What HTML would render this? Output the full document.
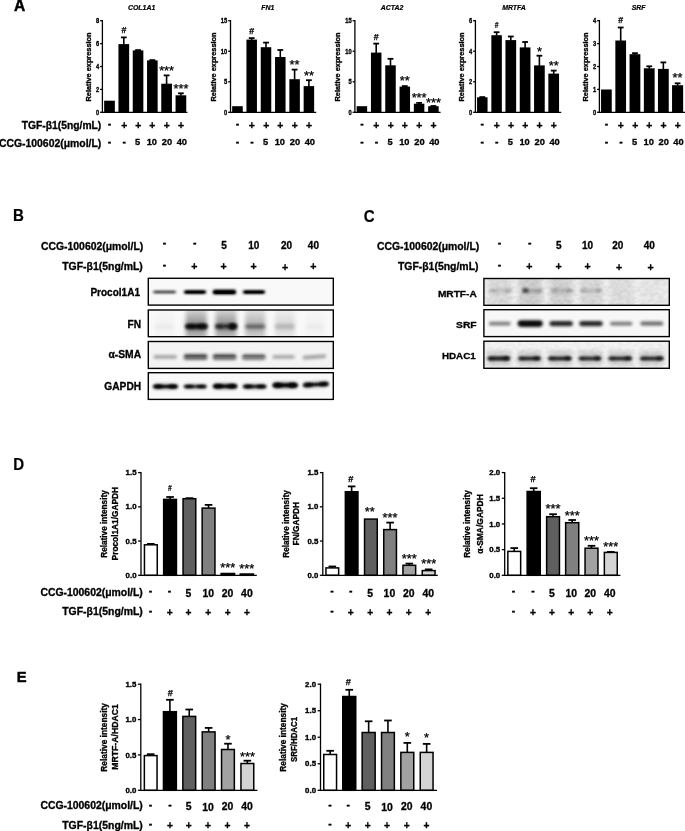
<!DOCTYPE html>
<html lang="en"><head><meta charset="utf-8"><title>Figure</title>
<style>html,body{margin:0;padding:0;background:#fff;}body{width:685px;height:831px;overflow:hidden;}svg{display:block;font-family:'Liberation Sans',Arial,Helvetica,sans-serif;font-weight:bold;}</style>
</head><body>
<svg width="685" height="831" viewBox="0 0 685 831">
<defs>
<filter id="b1" x="-20%" y="-150%" width="140%" height="400%"><feGaussianBlur stdDeviation="1.0 0.75"/></filter>
<filter id="b2" x="-20%" y="-150%" width="140%" height="400%"><feGaussianBlur stdDeviation="1.4 1.1"/></filter>
<filter id="b3" x="-30%" y="-60%" width="160%" height="220%"><feGaussianBlur stdDeviation="2.0 2.2"/></filter>
<filter id="b4" x="-30%" y="-30%" width="160%" height="160%"><feGaussianBlur stdDeviation="2.2 1.2"/></filter>
<filter id="nz" x="0" y="0" width="100%" height="100%"><feTurbulence type="fractalNoise" baseFrequency="0.22 0.3" numOctaves="2" seed="7"/><feColorMatrix type="matrix" values="0 0 0 0 0  0 0 0 0 0  0 0 0 0 0  1.6 0 0 0 -0.55"/><feGaussianBlur stdDeviation="0.6"/></filter>
<filter id="b5" x="-20%" y="-150%" width="140%" height="400%"><feGaussianBlur stdDeviation="1.7 1.5"/></filter>
<linearGradient id="sm" x1="0" y1="0" x2="0" y2="1"><stop offset="0" stop-color="#000" stop-opacity="0.25"/><stop offset="0.45" stop-color="#000" stop-opacity="0.75"/><stop offset="0.62" stop-color="#000" stop-opacity="1"/><stop offset="0.8" stop-color="#000" stop-opacity="0.7"/><stop offset="1" stop-color="#000" stop-opacity="0.45"/></linearGradient>
</defs>
<rect width="685" height="831" fill="#fff"/>
<text transform="translate(14.10 10.90) scale(0.96 1)" font-size="16.2" text-anchor="start" stroke="#000" stroke-width="0.45">A</text>
<text transform="translate(13.10 221.40) scale(0.93 1)" font-size="16.2" text-anchor="start" stroke="#000" stroke-width="0.2">B</text>
<text transform="translate(363.80 221.50) scale(0.93 1)" font-size="16.2" text-anchor="start" stroke="#000" stroke-width="0.2">C</text>
<text transform="translate(13.20 470.20) scale(0.93 1)" font-size="16.2" text-anchor="start" stroke="#000" stroke-width="0.2">D</text>
<text transform="translate(16.70 681.80) scale(0.97 1)" font-size="15.2" text-anchor="start" stroke="#000" stroke-width="0.45">E</text>
<line x1="123.80" y1="37.30" x2="123.80" y2="44.60" stroke="#000" stroke-width="1.6"/>
<line x1="120.90" y1="37.40" x2="126.70" y2="37.40" stroke="#000" stroke-width="1.8"/>
<line x1="138.05" y1="50.00" x2="138.05" y2="50.90" stroke="#000" stroke-width="1.6"/>
<line x1="135.15" y1="50.10" x2="140.95" y2="50.10" stroke="#000" stroke-width="1.8"/>
<line x1="152.35" y1="60.00" x2="152.35" y2="60.90" stroke="#000" stroke-width="1.6"/>
<line x1="149.45" y1="60.10" x2="155.25" y2="60.10" stroke="#000" stroke-width="1.8"/>
<line x1="166.60" y1="75.30" x2="166.60" y2="84.20" stroke="#000" stroke-width="1.6"/>
<line x1="163.70" y1="75.40" x2="169.50" y2="75.40" stroke="#000" stroke-width="1.8"/>
<line x1="180.90" y1="93.20" x2="180.90" y2="95.80" stroke="#000" stroke-width="1.6"/>
<line x1="178.00" y1="93.30" x2="183.80" y2="93.30" stroke="#000" stroke-width="1.8"/>
<rect x="104.15" y="100.70" width="10.70" height="11.60" fill="#000"/>
<rect x="118.45" y="44.10" width="10.70" height="68.20" fill="#000"/>
<rect x="132.75" y="50.40" width="10.60" height="61.90" fill="#000"/>
<rect x="147.05" y="60.40" width="10.60" height="51.90" fill="#000"/>
<rect x="161.25" y="83.70" width="10.70" height="28.60" fill="#000"/>
<rect x="175.55" y="95.30" width="10.70" height="17.00" fill="#000"/>
<line x1="102.40" y1="20.05" x2="102.40" y2="112.95" stroke="#000" stroke-width="1.3"/>
<line x1="101.75" y1="112.30" x2="187.40" y2="112.30" stroke="#000" stroke-width="1.3"/>
<line x1="100.10" y1="112.30" x2="102.40" y2="112.30" stroke="#000" stroke-width="1.3"/>
<text transform="translate(99.10 114.68) scale(0.82 1)" font-size="7.0" text-anchor="end" stroke="#000" stroke-width="0.35">0</text>
<line x1="100.10" y1="89.40" x2="102.40" y2="89.40" stroke="#000" stroke-width="1.3"/>
<text transform="translate(99.10 91.78) scale(0.82 1)" font-size="7.0" text-anchor="end" stroke="#000" stroke-width="0.35">2</text>
<line x1="100.10" y1="66.50" x2="102.40" y2="66.50" stroke="#000" stroke-width="1.3"/>
<text transform="translate(99.10 68.88) scale(0.82 1)" font-size="7.0" text-anchor="end" stroke="#000" stroke-width="0.35">4</text>
<line x1="100.10" y1="43.60" x2="102.40" y2="43.60" stroke="#000" stroke-width="1.3"/>
<text transform="translate(99.10 45.98) scale(0.82 1)" font-size="7.0" text-anchor="end" stroke="#000" stroke-width="0.35">6</text>
<line x1="100.10" y1="20.70" x2="102.40" y2="20.70" stroke="#000" stroke-width="1.3"/>
<text transform="translate(99.10 23.08) scale(0.82 1)" font-size="7.0" text-anchor="end" stroke="#000" stroke-width="0.35">8</text>
<text transform="translate(91.40 67.00) rotate(-90)" font-size="7.5" text-anchor="middle" textLength="69.00" lengthAdjust="spacingAndGlyphs" stroke="#000" stroke-width="0.33">Relative expression</text>
<text transform="translate(141.60 10.10) scale(0.9 1)" font-size="7.7" text-anchor="middle" font-style="italic" stroke="#000" stroke-width="0.22">COL1A1</text>
<text transform="translate(123.90 33.40)" font-size="8.8" text-anchor="middle" stroke="#000" stroke-width="0.25">#</text>
<text transform="translate(166.60 75.32)" font-size="12.8" text-anchor="middle" font-weight="normal" stroke="#000" stroke-width="0.25">***</text>
<text transform="translate(181.00 93.22)" font-size="12.8" text-anchor="middle" font-weight="normal" stroke="#000" stroke-width="0.25">***</text>
<line x1="251.70" y1="38.00" x2="251.70" y2="40.10" stroke="#000" stroke-width="1.6"/>
<line x1="248.80" y1="38.10" x2="254.60" y2="38.10" stroke="#000" stroke-width="1.8"/>
<line x1="266.00" y1="42.50" x2="266.00" y2="47.70" stroke="#000" stroke-width="1.6"/>
<line x1="263.10" y1="42.60" x2="268.90" y2="42.60" stroke="#000" stroke-width="1.8"/>
<line x1="280.30" y1="49.90" x2="280.30" y2="57.50" stroke="#000" stroke-width="1.6"/>
<line x1="277.40" y1="50.00" x2="283.20" y2="50.00" stroke="#000" stroke-width="1.8"/>
<line x1="294.60" y1="69.50" x2="294.60" y2="79.70" stroke="#000" stroke-width="1.6"/>
<line x1="291.70" y1="69.60" x2="297.50" y2="69.60" stroke="#000" stroke-width="1.8"/>
<line x1="308.90" y1="80.10" x2="308.90" y2="86.60" stroke="#000" stroke-width="1.6"/>
<line x1="306.00" y1="80.20" x2="311.80" y2="80.20" stroke="#000" stroke-width="1.8"/>
<rect x="232.15" y="106.20" width="10.60" height="6.10" fill="#000"/>
<rect x="246.45" y="39.60" width="10.50" height="72.70" fill="#000"/>
<rect x="260.75" y="47.20" width="10.50" height="65.10" fill="#000"/>
<rect x="275.05" y="57.00" width="10.50" height="55.30" fill="#000"/>
<rect x="289.35" y="79.20" width="10.50" height="33.10" fill="#000"/>
<rect x="303.65" y="86.10" width="10.50" height="26.20" fill="#000"/>
<line x1="230.50" y1="20.05" x2="230.50" y2="112.95" stroke="#000" stroke-width="1.3"/>
<line x1="229.85" y1="112.30" x2="316.20" y2="112.30" stroke="#000" stroke-width="1.3"/>
<line x1="228.20" y1="112.30" x2="230.50" y2="112.30" stroke="#000" stroke-width="1.3"/>
<text transform="translate(227.20 114.68) scale(0.82 1)" font-size="7.0" text-anchor="end" stroke="#000" stroke-width="0.35">0</text>
<line x1="228.20" y1="81.77" x2="230.50" y2="81.77" stroke="#000" stroke-width="1.3"/>
<text transform="translate(227.20 84.15) scale(0.82 1)" font-size="7.0" text-anchor="end" stroke="#000" stroke-width="0.35">5</text>
<line x1="228.20" y1="51.23" x2="230.50" y2="51.23" stroke="#000" stroke-width="1.3"/>
<text transform="translate(227.20 53.61) scale(0.82 1)" font-size="7.0" text-anchor="end" stroke="#000" stroke-width="0.35">10</text>
<line x1="228.20" y1="20.70" x2="230.50" y2="20.70" stroke="#000" stroke-width="1.3"/>
<text transform="translate(227.20 23.08) scale(0.82 1)" font-size="7.0" text-anchor="end" stroke="#000" stroke-width="0.35">15</text>
<text transform="translate(215.60 67.00) rotate(-90)" font-size="7.5" text-anchor="middle" textLength="69.00" lengthAdjust="spacingAndGlyphs" stroke="#000" stroke-width="0.33">Relative expression</text>
<text transform="translate(267.90 10.10) scale(0.9 1)" font-size="7.7" text-anchor="middle" font-style="italic" stroke="#000" stroke-width="0.22">FN1</text>
<text transform="translate(251.70 33.60)" font-size="8.8" text-anchor="middle" stroke="#000" stroke-width="0.25">#</text>
<text transform="translate(294.60 69.32)" font-size="12.8" text-anchor="middle" font-weight="normal" stroke="#000" stroke-width="0.25">**</text>
<text transform="translate(308.90 79.72)" font-size="12.8" text-anchor="middle" font-weight="normal" stroke="#000" stroke-width="0.25">**</text>
<line x1="376.20" y1="43.50" x2="376.20" y2="53.10" stroke="#000" stroke-width="1.6"/>
<line x1="373.30" y1="43.60" x2="379.10" y2="43.60" stroke="#000" stroke-width="1.8"/>
<line x1="390.50" y1="58.70" x2="390.50" y2="65.80" stroke="#000" stroke-width="1.6"/>
<line x1="387.60" y1="58.80" x2="393.40" y2="58.80" stroke="#000" stroke-width="1.8"/>
<line x1="404.80" y1="86.00" x2="404.80" y2="87.10" stroke="#000" stroke-width="1.6"/>
<line x1="401.90" y1="86.10" x2="407.70" y2="86.10" stroke="#000" stroke-width="1.8"/>
<line x1="419.10" y1="102.80" x2="419.10" y2="104.20" stroke="#000" stroke-width="1.6"/>
<line x1="416.20" y1="102.90" x2="422.00" y2="102.90" stroke="#000" stroke-width="1.8"/>
<line x1="433.40" y1="105.90" x2="433.40" y2="106.70" stroke="#000" stroke-width="1.6"/>
<line x1="430.50" y1="106.00" x2="436.30" y2="106.00" stroke="#000" stroke-width="1.8"/>
<rect x="356.65" y="106.20" width="10.50" height="6.10" fill="#000"/>
<rect x="370.95" y="52.60" width="10.50" height="59.70" fill="#000"/>
<rect x="385.25" y="65.30" width="10.50" height="47.00" fill="#000"/>
<rect x="399.55" y="86.60" width="10.50" height="25.70" fill="#000"/>
<rect x="413.85" y="103.70" width="10.50" height="8.60" fill="#000"/>
<rect x="428.15" y="106.20" width="10.50" height="6.10" fill="#000"/>
<line x1="354.90" y1="20.05" x2="354.90" y2="112.95" stroke="#000" stroke-width="1.3"/>
<line x1="354.25" y1="112.30" x2="440.60" y2="112.30" stroke="#000" stroke-width="1.3"/>
<line x1="352.60" y1="112.30" x2="354.90" y2="112.30" stroke="#000" stroke-width="1.3"/>
<text transform="translate(351.60 114.68) scale(0.82 1)" font-size="7.0" text-anchor="end" stroke="#000" stroke-width="0.35">0</text>
<line x1="352.60" y1="81.77" x2="354.90" y2="81.77" stroke="#000" stroke-width="1.3"/>
<text transform="translate(351.60 84.15) scale(0.82 1)" font-size="7.0" text-anchor="end" stroke="#000" stroke-width="0.35">5</text>
<line x1="352.60" y1="51.23" x2="354.90" y2="51.23" stroke="#000" stroke-width="1.3"/>
<text transform="translate(351.60 53.61) scale(0.82 1)" font-size="7.0" text-anchor="end" stroke="#000" stroke-width="0.35">10</text>
<line x1="352.60" y1="20.70" x2="354.90" y2="20.70" stroke="#000" stroke-width="1.3"/>
<text transform="translate(351.60 23.08) scale(0.82 1)" font-size="7.0" text-anchor="end" stroke="#000" stroke-width="0.35">15</text>
<text transform="translate(340.40 67.00) rotate(-90)" font-size="7.5" text-anchor="middle" textLength="69.00" lengthAdjust="spacingAndGlyphs" stroke="#000" stroke-width="0.33">Relative expression</text>
<text transform="translate(392.00 10.10) scale(0.9 1)" font-size="7.7" text-anchor="middle" font-style="italic" stroke="#000" stroke-width="0.22">ACTA2</text>
<text transform="translate(376.20 39.60)" font-size="8.8" text-anchor="middle" stroke="#000" stroke-width="0.25">#</text>
<text transform="translate(404.80 85.02)" font-size="12.8" text-anchor="middle" font-weight="normal" stroke="#000" stroke-width="0.25">**</text>
<text transform="translate(419.10 102.02)" font-size="12.8" text-anchor="middle" font-weight="normal" stroke="#000" stroke-width="0.25">***</text>
<text transform="translate(433.40 106.52)" font-size="12.8" text-anchor="middle" font-weight="normal" stroke="#000" stroke-width="0.25">***</text>
<line x1="482.30" y1="97.00" x2="482.30" y2="97.80" stroke="#000" stroke-width="1.6"/>
<line x1="479.40" y1="97.10" x2="485.20" y2="97.10" stroke="#000" stroke-width="1.8"/>
<line x1="496.60" y1="32.10" x2="496.60" y2="35.70" stroke="#000" stroke-width="1.6"/>
<line x1="493.70" y1="32.20" x2="499.50" y2="32.20" stroke="#000" stroke-width="1.8"/>
<line x1="510.80" y1="36.40" x2="510.80" y2="40.60" stroke="#000" stroke-width="1.6"/>
<line x1="507.90" y1="36.50" x2="513.70" y2="36.50" stroke="#000" stroke-width="1.8"/>
<line x1="525.10" y1="41.90" x2="525.10" y2="47.90" stroke="#000" stroke-width="1.6"/>
<line x1="522.20" y1="42.00" x2="528.00" y2="42.00" stroke="#000" stroke-width="1.8"/>
<line x1="539.40" y1="55.60" x2="539.40" y2="65.90" stroke="#000" stroke-width="1.6"/>
<line x1="536.50" y1="55.70" x2="542.30" y2="55.70" stroke="#000" stroke-width="1.8"/>
<line x1="553.70" y1="70.50" x2="553.70" y2="74.10" stroke="#000" stroke-width="1.6"/>
<line x1="550.80" y1="70.60" x2="556.60" y2="70.60" stroke="#000" stroke-width="1.8"/>
<rect x="477.05" y="97.30" width="10.50" height="15.00" fill="#000"/>
<rect x="491.35" y="35.20" width="10.50" height="77.10" fill="#000"/>
<rect x="505.45" y="40.10" width="10.70" height="72.20" fill="#000"/>
<rect x="519.75" y="47.40" width="10.70" height="64.90" fill="#000"/>
<rect x="534.05" y="65.40" width="10.70" height="46.90" fill="#000"/>
<rect x="548.35" y="73.60" width="10.70" height="38.70" fill="#000"/>
<line x1="475.40" y1="20.05" x2="475.40" y2="112.95" stroke="#000" stroke-width="1.3"/>
<line x1="474.75" y1="112.30" x2="561.20" y2="112.30" stroke="#000" stroke-width="1.3"/>
<line x1="473.10" y1="112.30" x2="475.40" y2="112.30" stroke="#000" stroke-width="1.3"/>
<text transform="translate(472.10 114.68) scale(0.82 1)" font-size="7.0" text-anchor="end" stroke="#000" stroke-width="0.35">0</text>
<line x1="473.10" y1="81.77" x2="475.40" y2="81.77" stroke="#000" stroke-width="1.3"/>
<text transform="translate(472.10 84.15) scale(0.82 1)" font-size="7.0" text-anchor="end" stroke="#000" stroke-width="0.35">2</text>
<line x1="473.10" y1="51.23" x2="475.40" y2="51.23" stroke="#000" stroke-width="1.3"/>
<text transform="translate(472.10 53.61) scale(0.82 1)" font-size="7.0" text-anchor="end" stroke="#000" stroke-width="0.35">4</text>
<line x1="473.10" y1="20.70" x2="475.40" y2="20.70" stroke="#000" stroke-width="1.3"/>
<text transform="translate(472.10 23.08) scale(0.82 1)" font-size="7.0" text-anchor="end" stroke="#000" stroke-width="0.35">6</text>
<text transform="translate(464.30 67.00) rotate(-90)" font-size="7.5" text-anchor="middle" textLength="69.00" lengthAdjust="spacingAndGlyphs" stroke="#000" stroke-width="0.33">Relative expression</text>
<text transform="translate(514.00 10.10) scale(0.9 1)" font-size="7.7" text-anchor="middle" font-style="italic" stroke="#000" stroke-width="0.22">MRTFA</text>
<text transform="translate(496.60 27.60) scale(0.72 1)" font-size="9.0" text-anchor="middle" font-style="italic" stroke="#000" stroke-width="0.25">#</text>
<text transform="translate(539.40 55.92)" font-size="12.8" text-anchor="middle" font-weight="normal" stroke="#000" stroke-width="0.25">*</text>
<text transform="translate(553.70 69.92)" font-size="12.8" text-anchor="middle" font-weight="normal" stroke="#000" stroke-width="0.25">**</text>
<line x1="620.70" y1="27.40" x2="620.70" y2="41.00" stroke="#000" stroke-width="1.6"/>
<line x1="617.80" y1="27.50" x2="623.60" y2="27.50" stroke="#000" stroke-width="1.8"/>
<line x1="634.95" y1="53.10" x2="634.95" y2="54.70" stroke="#000" stroke-width="1.6"/>
<line x1="632.05" y1="53.20" x2="637.85" y2="53.20" stroke="#000" stroke-width="1.8"/>
<line x1="649.25" y1="66.20" x2="649.25" y2="68.80" stroke="#000" stroke-width="1.6"/>
<line x1="646.35" y1="66.30" x2="652.15" y2="66.30" stroke="#000" stroke-width="1.8"/>
<line x1="663.35" y1="62.30" x2="663.35" y2="69.40" stroke="#000" stroke-width="1.6"/>
<line x1="660.45" y1="62.40" x2="666.25" y2="62.40" stroke="#000" stroke-width="1.8"/>
<line x1="677.60" y1="83.20" x2="677.60" y2="85.70" stroke="#000" stroke-width="1.6"/>
<line x1="674.70" y1="83.30" x2="680.50" y2="83.30" stroke="#000" stroke-width="1.8"/>
<rect x="601.05" y="89.50" width="10.70" height="22.80" fill="#000"/>
<rect x="615.35" y="40.50" width="10.70" height="71.80" fill="#000"/>
<rect x="629.55" y="54.20" width="10.80" height="58.10" fill="#000"/>
<rect x="643.85" y="68.30" width="10.80" height="44.00" fill="#000"/>
<rect x="657.95" y="68.90" width="10.80" height="43.40" fill="#000"/>
<rect x="672.05" y="85.20" width="11.10" height="27.10" fill="#000"/>
<line x1="599.40" y1="20.05" x2="599.40" y2="112.95" stroke="#000" stroke-width="1.3"/>
<line x1="598.75" y1="112.30" x2="686.00" y2="112.30" stroke="#000" stroke-width="1.3"/>
<line x1="597.10" y1="112.30" x2="599.40" y2="112.30" stroke="#000" stroke-width="1.3"/>
<text transform="translate(596.10 114.68) scale(0.82 1)" font-size="7.0" text-anchor="end" stroke="#000" stroke-width="0.35">0</text>
<line x1="597.10" y1="89.40" x2="599.40" y2="89.40" stroke="#000" stroke-width="1.3"/>
<text transform="translate(596.10 91.78) scale(0.82 1)" font-size="7.0" text-anchor="end" stroke="#000" stroke-width="0.35">1</text>
<line x1="597.10" y1="66.50" x2="599.40" y2="66.50" stroke="#000" stroke-width="1.3"/>
<text transform="translate(596.10 68.88) scale(0.82 1)" font-size="7.0" text-anchor="end" stroke="#000" stroke-width="0.35">2</text>
<line x1="597.10" y1="43.60" x2="599.40" y2="43.60" stroke="#000" stroke-width="1.3"/>
<text transform="translate(596.10 45.98) scale(0.82 1)" font-size="7.0" text-anchor="end" stroke="#000" stroke-width="0.35">3</text>
<line x1="597.10" y1="20.70" x2="599.40" y2="20.70" stroke="#000" stroke-width="1.3"/>
<text transform="translate(596.10 23.08) scale(0.82 1)" font-size="7.0" text-anchor="end" stroke="#000" stroke-width="0.35">4</text>
<text transform="translate(588.30 67.00) rotate(-90)" font-size="7.5" text-anchor="middle" textLength="69.00" lengthAdjust="spacingAndGlyphs" stroke="#000" stroke-width="0.33">Relative expression</text>
<text transform="translate(638.60 10.10) scale(0.9 1)" font-size="7.7" text-anchor="middle" font-style="italic" stroke="#000" stroke-width="0.22">SRF</text>
<text transform="translate(620.70 22.80)" font-size="8.8" text-anchor="middle" stroke="#000" stroke-width="0.25">#</text>
<text transform="translate(677.60 82.02)" font-size="12.8" text-anchor="middle" font-weight="normal" stroke="#000" stroke-width="0.25">**</text>
<text transform="translate(101.30 128.70)" font-size="10.4" text-anchor="end" textLength="79.60" lengthAdjust="spacingAndGlyphs" stroke="#000" stroke-width="0.3">TGF-β1(5ng/mL)</text>
<text transform="translate(101.30 147.00)" font-size="10.4" text-anchor="end" textLength="102.40" lengthAdjust="spacingAndGlyphs" stroke="#000" stroke-width="0.3">CCG-100602(μmol/L)</text>
<text transform="translate(109.50 126.73)" font-size="10.4" text-anchor="middle" stroke="#000" stroke-width="0.3">-</text>
<text transform="translate(124.20 129.11)" font-size="10.4" text-anchor="middle" stroke="#000" stroke-width="0.3">+</text>
<text transform="translate(138.20 129.11)" font-size="10.4" text-anchor="middle" stroke="#000" stroke-width="0.3">+</text>
<text transform="translate(152.40 129.11)" font-size="10.4" text-anchor="middle" stroke="#000" stroke-width="0.3">+</text>
<text transform="translate(166.70 129.11)" font-size="10.4" text-anchor="middle" stroke="#000" stroke-width="0.3">+</text>
<text transform="translate(181.00 129.11)" font-size="10.4" text-anchor="middle" stroke="#000" stroke-width="0.3">+</text>
<text transform="translate(109.50 144.73)" font-size="10.4" text-anchor="middle" stroke="#000" stroke-width="0.3">-</text>
<text transform="translate(124.20 144.73)" font-size="10.4" text-anchor="middle" stroke="#000" stroke-width="0.3">-</text>
<text transform="translate(137.60 145.00)" font-size="9.3" text-anchor="middle" stroke="#000" stroke-width="0.3">5</text>
<text transform="translate(151.80 145.00)" font-size="9.3" text-anchor="middle" stroke="#000" stroke-width="0.3">10</text>
<text transform="translate(166.90 145.00)" font-size="9.3" text-anchor="middle" stroke="#000" stroke-width="0.3">20</text>
<text transform="translate(181.80 145.00)" font-size="9.3" text-anchor="middle" stroke="#000" stroke-width="0.3">40</text>
<text transform="translate(237.40 126.73)" font-size="10.4" text-anchor="middle" stroke="#000" stroke-width="0.3">-</text>
<text transform="translate(251.90 129.11)" font-size="10.4" text-anchor="middle" stroke="#000" stroke-width="0.3">+</text>
<text transform="translate(266.20 129.11)" font-size="10.4" text-anchor="middle" stroke="#000" stroke-width="0.3">+</text>
<text transform="translate(280.40 129.11)" font-size="10.4" text-anchor="middle" stroke="#000" stroke-width="0.3">+</text>
<text transform="translate(294.70 129.11)" font-size="10.4" text-anchor="middle" stroke="#000" stroke-width="0.3">+</text>
<text transform="translate(309.00 129.11)" font-size="10.4" text-anchor="middle" stroke="#000" stroke-width="0.3">+</text>
<text transform="translate(237.40 144.73)" font-size="10.4" text-anchor="middle" stroke="#000" stroke-width="0.3">-</text>
<text transform="translate(251.90 144.73)" font-size="10.4" text-anchor="middle" stroke="#000" stroke-width="0.3">-</text>
<text transform="translate(265.60 145.00)" font-size="9.3" text-anchor="middle" stroke="#000" stroke-width="0.3">5</text>
<text transform="translate(279.80 145.00)" font-size="9.3" text-anchor="middle" stroke="#000" stroke-width="0.3">10</text>
<text transform="translate(294.90 145.00)" font-size="9.3" text-anchor="middle" stroke="#000" stroke-width="0.3">20</text>
<text transform="translate(309.80 145.00)" font-size="9.3" text-anchor="middle" stroke="#000" stroke-width="0.3">40</text>
<text transform="translate(361.90 126.73)" font-size="10.4" text-anchor="middle" stroke="#000" stroke-width="0.3">-</text>
<text transform="translate(376.40 129.11)" font-size="10.4" text-anchor="middle" stroke="#000" stroke-width="0.3">+</text>
<text transform="translate(390.70 129.11)" font-size="10.4" text-anchor="middle" stroke="#000" stroke-width="0.3">+</text>
<text transform="translate(404.90 129.11)" font-size="10.4" text-anchor="middle" stroke="#000" stroke-width="0.3">+</text>
<text transform="translate(419.20 129.11)" font-size="10.4" text-anchor="middle" stroke="#000" stroke-width="0.3">+</text>
<text transform="translate(433.50 129.11)" font-size="10.4" text-anchor="middle" stroke="#000" stroke-width="0.3">+</text>
<text transform="translate(361.90 144.73)" font-size="10.4" text-anchor="middle" stroke="#000" stroke-width="0.3">-</text>
<text transform="translate(376.40 144.73)" font-size="10.4" text-anchor="middle" stroke="#000" stroke-width="0.3">-</text>
<text transform="translate(390.10 145.00)" font-size="9.3" text-anchor="middle" stroke="#000" stroke-width="0.3">5</text>
<text transform="translate(404.30 145.00)" font-size="9.3" text-anchor="middle" stroke="#000" stroke-width="0.3">10</text>
<text transform="translate(419.40 145.00)" font-size="9.3" text-anchor="middle" stroke="#000" stroke-width="0.3">20</text>
<text transform="translate(434.30 145.00)" font-size="9.3" text-anchor="middle" stroke="#000" stroke-width="0.3">40</text>
<text transform="translate(482.30 126.73)" font-size="10.4" text-anchor="middle" stroke="#000" stroke-width="0.3">-</text>
<text transform="translate(496.80 129.11)" font-size="10.4" text-anchor="middle" stroke="#000" stroke-width="0.3">+</text>
<text transform="translate(511.00 129.11)" font-size="10.4" text-anchor="middle" stroke="#000" stroke-width="0.3">+</text>
<text transform="translate(525.20 129.11)" font-size="10.4" text-anchor="middle" stroke="#000" stroke-width="0.3">+</text>
<text transform="translate(539.50 129.11)" font-size="10.4" text-anchor="middle" stroke="#000" stroke-width="0.3">+</text>
<text transform="translate(553.80 129.11)" font-size="10.4" text-anchor="middle" stroke="#000" stroke-width="0.3">+</text>
<text transform="translate(482.30 144.73)" font-size="10.4" text-anchor="middle" stroke="#000" stroke-width="0.3">-</text>
<text transform="translate(496.80 144.73)" font-size="10.4" text-anchor="middle" stroke="#000" stroke-width="0.3">-</text>
<text transform="translate(510.40 145.00)" font-size="9.3" text-anchor="middle" stroke="#000" stroke-width="0.3">5</text>
<text transform="translate(524.60 145.00)" font-size="9.3" text-anchor="middle" stroke="#000" stroke-width="0.3">10</text>
<text transform="translate(539.70 145.00)" font-size="9.3" text-anchor="middle" stroke="#000" stroke-width="0.3">20</text>
<text transform="translate(554.60 145.00)" font-size="9.3" text-anchor="middle" stroke="#000" stroke-width="0.3">40</text>
<text transform="translate(606.40 126.73)" font-size="10.4" text-anchor="middle" stroke="#000" stroke-width="0.3">-</text>
<text transform="translate(620.90 129.11)" font-size="10.4" text-anchor="middle" stroke="#000" stroke-width="0.3">+</text>
<text transform="translate(635.20 129.11)" font-size="10.4" text-anchor="middle" stroke="#000" stroke-width="0.3">+</text>
<text transform="translate(649.30 129.11)" font-size="10.4" text-anchor="middle" stroke="#000" stroke-width="0.3">+</text>
<text transform="translate(663.50 129.11)" font-size="10.4" text-anchor="middle" stroke="#000" stroke-width="0.3">+</text>
<text transform="translate(677.70 129.11)" font-size="10.4" text-anchor="middle" stroke="#000" stroke-width="0.3">+</text>
<text transform="translate(606.40 144.73)" font-size="10.4" text-anchor="middle" stroke="#000" stroke-width="0.3">-</text>
<text transform="translate(620.90 144.73)" font-size="10.4" text-anchor="middle" stroke="#000" stroke-width="0.3">-</text>
<text transform="translate(634.60 145.00)" font-size="9.3" text-anchor="middle" stroke="#000" stroke-width="0.3">5</text>
<text transform="translate(648.70 145.00)" font-size="9.3" text-anchor="middle" stroke="#000" stroke-width="0.3">10</text>
<text transform="translate(663.70 145.00)" font-size="9.3" text-anchor="middle" stroke="#000" stroke-width="0.3">20</text>
<text transform="translate(678.50 145.00)" font-size="9.3" text-anchor="middle" stroke="#000" stroke-width="0.3">40</text>
<text transform="translate(143.20 250.20)" font-size="10.4" text-anchor="end" textLength="102.20" lengthAdjust="spacingAndGlyphs" stroke="#000" stroke-width="0.3">CCG-100602(μmol/L)</text>
<text transform="translate(142.80 270.30)" font-size="10.4" text-anchor="end" textLength="80.60" lengthAdjust="spacingAndGlyphs" stroke="#000" stroke-width="0.3">TGF-β1(5ng/mL)</text>
<text transform="translate(164.50 245.63)" font-size="10.4" text-anchor="middle" stroke="#000" stroke-width="0.3">-</text>
<text transform="translate(194.70 245.63)" font-size="10.4" text-anchor="middle" stroke="#000" stroke-width="0.3">-</text>
<text transform="translate(224.10 248.60)" font-size="10.0" text-anchor="middle" stroke="#000" stroke-width="0.3">5</text>
<text transform="translate(253.80 248.60)" font-size="10.0" text-anchor="middle" stroke="#000" stroke-width="0.3">10</text>
<text transform="translate(286.60 248.60)" font-size="10.0" text-anchor="middle" stroke="#000" stroke-width="0.3">20</text>
<text transform="translate(313.40 248.60)" font-size="10.0" text-anchor="middle" stroke="#000" stroke-width="0.3">40</text>
<text transform="translate(164.50 267.93)" font-size="10.4" text-anchor="middle" stroke="#000" stroke-width="0.3">-</text>
<text transform="translate(194.40 270.38)" font-size="10.6" text-anchor="middle" stroke="#000" stroke-width="0.3">+</text>
<text transform="translate(223.70 270.38)" font-size="10.6" text-anchor="middle" stroke="#000" stroke-width="0.3">+</text>
<text transform="translate(253.50 270.38)" font-size="10.6" text-anchor="middle" stroke="#000" stroke-width="0.3">+</text>
<text transform="translate(285.00 271.18)" font-size="10.6" text-anchor="middle" stroke="#000" stroke-width="0.3">+</text>
<text transform="translate(313.40 270.38)" font-size="10.6" text-anchor="middle" stroke="#000" stroke-width="0.3">+</text>
<text transform="translate(140.00 296.20)" font-size="10.0" text-anchor="end" textLength="49.60" lengthAdjust="spacingAndGlyphs" stroke="#000" stroke-width="0.3">Procol1A1</text>
<text transform="translate(141.10 327.70)" font-size="10.0" text-anchor="end" textLength="13.50" lengthAdjust="spacingAndGlyphs" stroke="#000" stroke-width="0.3">FN</text>
<text transform="translate(141.10 358.30)" font-size="10.0" text-anchor="end" textLength="32.60" lengthAdjust="spacingAndGlyphs" stroke="#000" stroke-width="0.3">α-SMA</text>
<text transform="translate(141.10 390.30)" font-size="10.0" text-anchor="end" textLength="36.80" lengthAdjust="spacingAndGlyphs" stroke="#000" stroke-width="0.3">GAPDH</text>
<clipPath id="cb0"><rect x="148.90" y="278.90" width="183.80" height="25.60"/></clipPath>
<rect x="148.30" y="278.30" width="185.00" height="26.80" fill="#f9f9f9" stroke="#000" stroke-width="1.4"/>
<clipPath id="cb1"><rect x="148.90" y="310.60" width="183.80" height="25.50"/></clipPath>
<rect x="148.30" y="310.00" width="185.00" height="26.70" fill="#f9f9f9" stroke="#000" stroke-width="1.4"/>
<clipPath id="cb2"><rect x="148.90" y="342.10" width="183.80" height="25.70"/></clipPath>
<rect x="148.30" y="341.50" width="185.00" height="26.90" fill="#f9f9f9" stroke="#000" stroke-width="1.4"/>
<clipPath id="cb3"><rect x="148.90" y="373.30" width="183.80" height="25.50"/></clipPath>
<rect x="148.30" y="372.70" width="185.00" height="26.70" fill="#f9f9f9" stroke="#000" stroke-width="1.4"/>
<g clip-path="url(#cb0)">
<rect x="153.35" y="290.40" width="22.50" height="3.00" rx="1.20" fill="#000" opacity="0.72" filter="url(#b2)"/>
<rect x="184.25" y="289.90" width="21.50" height="4.00" rx="1.20" fill="#000" opacity="1.0" filter="url(#b2)"/>
<rect x="213.15" y="289.40" width="22.50" height="5.00" rx="1.20" fill="#000" opacity="1.0" filter="url(#b2)"/>
<rect x="243.25" y="289.90" width="21.50" height="4.00" rx="1.20" fill="#000" opacity="1.0" filter="url(#b2)"/>
<rect x="185.50" y="291.20" width="19.00" height="2.00" rx="1.00" fill="#000" opacity="0.6" filter="url(#b1)"/>
<rect x="213.90" y="290.70" width="21.00" height="3.00" rx="1.00" fill="#000" opacity="0.9" filter="url(#b1)"/>
<rect x="244.50" y="291.20" width="19.00" height="2.00" rx="1.00" fill="#000" opacity="0.6" filter="url(#b1)"/>
</g>
<g clip-path="url(#cb1)">
<rect x="185.70" y="309" width="21" height="28.5" fill="url(#sm)" opacity="0.52" filter="url(#b4)"/>
<rect x="215.50" y="309" width="21" height="28.5" fill="url(#sm)" opacity="0.5" filter="url(#b4)"/>
<rect x="245.20" y="309" width="20" height="28.5" fill="url(#sm)" opacity="0.34" filter="url(#b4)"/>
<rect x="274.80" y="309" width="20" height="28.5" fill="url(#sm)" opacity="0.15" filter="url(#b4)"/>
<rect x="155.00" y="309" width="19" height="28.5" fill="url(#sm)" opacity="0.03" filter="url(#b4)"/>
<rect x="305.50" y="309" width="19" height="28.5" fill="url(#sm)" opacity="0.03" filter="url(#b4)"/>
<rect x="185.20" y="324.00" width="22.00" height="4.80" rx="2.40" fill="#000" opacity="0.92" filter="url(#b5)"/>
<rect x="215.00" y="324.20" width="22.00" height="4.40" rx="2.20" fill="#000" opacity="0.62" filter="url(#b5)"/>
<rect x="197.50" y="323.60" width="10.00" height="5.60" rx="2.80" fill="#000" opacity="0.55" filter="url(#b2)"/>
<rect x="186.50" y="323.90" width="9.00" height="5.00" rx="2.50" fill="#000" opacity="0.45" filter="url(#b2)"/>
<rect x="228.35" y="323.10" width="8.50" height="6.60" rx="3.30" fill="#000" opacity="0.85" filter="url(#b2)"/>
<rect x="216.00" y="324.10" width="7.00" height="4.60" rx="2.30" fill="#000" opacity="0.35" filter="url(#b2)"/>
<rect x="245.20" y="324.40" width="20.00" height="4.00" rx="2.00" fill="#000" opacity="0.42" filter="url(#b5)"/>
<rect x="274.80" y="323.65" width="20.00" height="5.50" rx="2.75" fill="#000" opacity="0.13" filter="url(#b5)"/>
<rect x="305.00" y="323.90" width="20.00" height="5.00" rx="2.50" fill="#000" opacity="0.02" filter="url(#b5)"/>
<rect x="154.50" y="323.90" width="20.00" height="5.00" rx="2.50" fill="#000" opacity="0.02" filter="url(#b5)"/>
<circle cx="225.6" cy="325.6" r="0.7" fill="#000" opacity="0.7"/>
</g>
<g clip-path="url(#cb2)">
<rect x="147.6" y="340" width="186.4" height="30" fill="#000" opacity="0.025"/>
<rect x="153.45" y="355.00" width="23.50" height="3.80" rx="1.90" fill="#000" opacity="0.32" filter="url(#b5)"/>
<rect x="183.60" y="353.80" width="24.00" height="6.20" rx="3.10" fill="#000" opacity="0.58" filter="url(#b5)"/>
<rect x="212.60" y="353.80" width="24.00" height="6.20" rx="3.10" fill="#000" opacity="0.56" filter="url(#b5)"/>
<rect x="241.80" y="353.90" width="24.00" height="6.00" rx="3.00" fill="#000" opacity="0.5" filter="url(#b5)"/>
<rect x="272.35" y="355.00" width="22.50" height="3.80" rx="1.90" fill="#000" opacity="0.3" filter="url(#b5)"/>
<rect x="302.65" y="355.00" width="23.50" height="3.80" rx="1.90" fill="#000" opacity="0.34" filter="url(#b5)" transform="rotate(-4 314.4 356.9)"/>
<rect x="185.10" y="354.80" width="21.00" height="1.60" rx="0.80" fill="#000" opacity="0.22" filter="url(#b1)"/>
<rect x="214.10" y="354.80" width="21.00" height="1.60" rx="0.80" fill="#000" opacity="0.22" filter="url(#b1)"/>
<rect x="243.30" y="354.80" width="21.00" height="1.60" rx="0.80" fill="#000" opacity="0.16" filter="url(#b1)"/>
</g>
<g clip-path="url(#cb3)">
<g>
<rect x="152.75" y="383.00" width="25.50" height="7.00" rx="3.50" fill="#000" opacity="0.28" filter="url(#b5)"/>
<rect x="153.50" y="385.00" width="24.00" height="3.00" rx="1.50" fill="#000" opacity="1" filter="url(#b2)"/>
<rect x="154.50" y="384.50" width="8.00" height="4.00" rx="2.00" fill="#000" opacity="0.85" filter="url(#b2)"/>
<rect x="168.50" y="384.50" width="8.00" height="4.00" rx="2.00" fill="#000" opacity="0.85" filter="url(#b2)"/>
</g>
<g>
<rect x="183.55" y="383.40" width="23.50" height="6.20" rx="3.10" fill="#000" opacity="0.28" filter="url(#b5)"/>
<rect x="184.30" y="385.40" width="22.00" height="2.20" rx="1.10" fill="#000" opacity="1" filter="url(#b2)"/>
<rect x="185.30" y="384.90" width="8.00" height="3.20" rx="1.60" fill="#000" opacity="0.85" filter="url(#b2)"/>
<rect x="197.30" y="384.90" width="8.00" height="3.20" rx="1.60" fill="#000" opacity="0.85" filter="url(#b2)"/>
</g>
<g>
<rect x="212.60" y="382.50" width="25.00" height="7.40" rx="3.70" fill="#000" opacity="0.28" filter="url(#b5)"/>
<rect x="213.35" y="384.50" width="23.50" height="3.40" rx="1.70" fill="#000" opacity="1" filter="url(#b2)"/>
<rect x="214.35" y="384.00" width="8.00" height="4.40" rx="2.20" fill="#000" opacity="0.85" filter="url(#b2)"/>
<rect x="227.85" y="384.00" width="8.00" height="4.40" rx="2.20" fill="#000" opacity="0.85" filter="url(#b2)"/>
</g>
<g>
<rect x="242.70" y="383.30" width="24.00" height="6.40" rx="3.20" fill="#000" opacity="0.28" filter="url(#b5)"/>
<rect x="243.45" y="385.30" width="22.50" height="2.40" rx="1.20" fill="#000" opacity="1" filter="url(#b2)"/>
<rect x="244.45" y="384.80" width="8.00" height="3.40" rx="1.70" fill="#000" opacity="0.85" filter="url(#b2)"/>
<rect x="256.95" y="384.80" width="8.00" height="3.40" rx="1.70" fill="#000" opacity="0.85" filter="url(#b2)"/>
</g>
<g>
<rect x="272.20" y="381.30" width="26.00" height="8.00" rx="4.00" fill="#000" opacity="0.28" filter="url(#b5)"/>
<rect x="272.95" y="383.30" width="24.50" height="4.00" rx="2.00" fill="#000" opacity="1" filter="url(#b2)"/>
<rect x="273.95" y="382.80" width="8.00" height="5.00" rx="2.50" fill="#000" opacity="0.85" filter="url(#b2)"/>
<rect x="288.45" y="382.80" width="8.00" height="5.00" rx="2.50" fill="#000" opacity="0.85" filter="url(#b2)"/>
</g>
<g transform="rotate(-3 315.9 384.5)">
<rect x="302.65" y="381.00" width="26.50" height="7.00" rx="3.50" fill="#000" opacity="0.28" filter="url(#b5)"/>
<rect x="303.40" y="383.00" width="25.00" height="3.00" rx="1.50" fill="#000" opacity="1" filter="url(#b2)"/>
<rect x="304.40" y="382.50" width="8.00" height="4.00" rx="2.00" fill="#000" opacity="0.85" filter="url(#b2)"/>
<rect x="319.40" y="382.50" width="8.00" height="4.00" rx="2.00" fill="#000" opacity="0.85" filter="url(#b2)"/>
</g>
</g>
<text transform="translate(479.20 250.20)" font-size="10.4" text-anchor="end" textLength="102.20" lengthAdjust="spacingAndGlyphs" stroke="#000" stroke-width="0.3">CCG-100602(μmol/L)</text>
<text transform="translate(478.50 270.30)" font-size="10.4" text-anchor="end" textLength="80.60" lengthAdjust="spacingAndGlyphs" stroke="#000" stroke-width="0.3">TGF-β1(5ng/mL)</text>
<text transform="translate(499.50 245.63)" font-size="10.4" text-anchor="middle" stroke="#000" stroke-width="0.3">-</text>
<text transform="translate(529.70 245.63)" font-size="10.4" text-anchor="middle" stroke="#000" stroke-width="0.3">-</text>
<text transform="translate(558.80 248.60)" font-size="10.0" text-anchor="middle" stroke="#000" stroke-width="0.3">5</text>
<text transform="translate(587.50 248.60)" font-size="10.0" text-anchor="middle" stroke="#000" stroke-width="0.3">10</text>
<text transform="translate(617.70 248.60)" font-size="10.0" text-anchor="middle" stroke="#000" stroke-width="0.3">20</text>
<text transform="translate(649.20 248.60)" font-size="10.0" text-anchor="middle" stroke="#000" stroke-width="0.3">40</text>
<text transform="translate(499.50 267.93)" font-size="10.4" text-anchor="middle" stroke="#000" stroke-width="0.3">-</text>
<text transform="translate(529.40 270.38)" font-size="10.6" text-anchor="middle" stroke="#000" stroke-width="0.3">+</text>
<text transform="translate(558.60 270.38)" font-size="10.6" text-anchor="middle" stroke="#000" stroke-width="0.3">+</text>
<text transform="translate(587.50 270.38)" font-size="10.6" text-anchor="middle" stroke="#000" stroke-width="0.3">+</text>
<text transform="translate(619.00 271.08)" font-size="10.6" text-anchor="middle" stroke="#000" stroke-width="0.3">+</text>
<text transform="translate(650.50 271.08)" font-size="10.6" text-anchor="middle" stroke="#000" stroke-width="0.3">+</text>
<text transform="translate(476.70 297.20)" font-size="9.9" text-anchor="end" textLength="38.80" lengthAdjust="spacingAndGlyphs" stroke="#000" stroke-width="0.3">MRTF-A</text>
<text transform="translate(476.60 327.60)" font-size="9.9" text-anchor="end" textLength="20.60" lengthAdjust="spacingAndGlyphs" stroke="#000" stroke-width="0.3">SRF</text>
<text transform="translate(475.70 358.90)" font-size="9.9" text-anchor="end" textLength="33.80" lengthAdjust="spacingAndGlyphs" stroke="#000" stroke-width="0.3">HDAC1</text>
<clipPath id="cc0"><rect x="484.50" y="279.10" width="184.20" height="25.60"/></clipPath>
<rect x="483.90" y="278.50" width="185.40" height="26.80" fill="#eeeeee" stroke="#000" stroke-width="1.4"/>
<clipPath id="cc1"><rect x="484.50" y="310.30" width="184.20" height="25.70"/></clipPath>
<rect x="483.90" y="309.70" width="185.40" height="26.90" fill="#f7f7f7" stroke="#000" stroke-width="1.4"/>
<clipPath id="cc2"><rect x="484.50" y="341.80" width="184.20" height="25.90"/></clipPath>
<rect x="483.90" y="341.20" width="185.40" height="27.10" fill="#f3f3f3" stroke="#000" stroke-width="1.4"/>
<g clip-path="url(#cc0)">
<rect x="488.70" y="275.00" width="22.00" height="34.00" rx="2.00" fill="#000" opacity="0.07" filter="url(#b4)"/>
<rect x="519.20" y="275.00" width="22.00" height="34.00" rx="2.00" fill="#000" opacity="0.12" filter="url(#b4)"/>
<rect x="550.00" y="275.00" width="22.00" height="34.00" rx="2.00" fill="#000" opacity="0.1" filter="url(#b4)"/>
<rect x="580.00" y="275.00" width="22.00" height="34.00" rx="2.00" fill="#000" opacity="0.08" filter="url(#b4)"/>
<rect x="610.20" y="275.00" width="22.00" height="34.00" rx="2.00" fill="#000" opacity="0.06" filter="url(#b4)"/>
<rect x="640.80" y="275.00" width="22.00" height="34.00" rx="2.00" fill="#000" opacity="0.02" filter="url(#b4)"/>
<rect x="489.50" y="288.80" width="22.00" height="4.00" rx="2.00" fill="#000" opacity="0.12" filter="url(#b5)"/>
<rect x="521.50" y="288.70" width="21.00" height="4.20" rx="2.10" fill="#000" opacity="0.2" filter="url(#b5)"/>
<rect x="550.50" y="288.80" width="22.00" height="4.00" rx="2.00" fill="#000" opacity="0.17" filter="url(#b5)"/>
<rect x="580.00" y="288.80" width="21.00" height="4.00" rx="2.00" fill="#000" opacity="0.14" filter="url(#b5)"/>
<rect x="489.50" y="288.60" width="6.00" height="4.00" rx="2.00" fill="#000" opacity="0.09" filter="url(#b2)"/>
<rect x="505.00" y="288.60" width="7.00" height="4.00" rx="2.00" fill="#000" opacity="0.11" filter="url(#b2)"/>
<rect x="522.30" y="287.85" width="6.00" height="5.50" rx="2.75" fill="#000" opacity="0.42" filter="url(#b2)"/>
<rect x="524.00" y="289.30" width="4.00" height="2.60" rx="1.30" fill="#000" opacity="0.4" filter="url(#b2)"/>
<rect x="537.00" y="288.60" width="6.00" height="4.00" rx="2.00" fill="#000" opacity="0.1" filter="url(#b2)"/>
<rect x="551.00" y="288.60" width="6.00" height="4.00" rx="2.00" fill="#000" opacity="0.09" filter="url(#b2)"/>
<rect x="566.00" y="288.60" width="7.00" height="4.00" rx="2.00" fill="#000" opacity="0.12" filter="url(#b2)"/>
<rect x="580.00" y="288.60" width="6.00" height="4.00" rx="2.00" fill="#000" opacity="0.08" filter="url(#b2)"/>
<rect x="596.50" y="288.40" width="6.00" height="4.40" rx="2.20" fill="#000" opacity="0.14" filter="url(#b2)"/>
<rect x="483.2" y="278" width="186.8" height="28" filter="url(#nz)" opacity="0.09"/>
</g>
<g clip-path="url(#cc1)">
<rect x="488.70" y="321.80" width="22.00" height="3.60" rx="1.80" fill="#000" opacity="0.5" filter="url(#b5)"/>
<rect x="517.70" y="320.30" width="25.00" height="6.60" rx="3.30" fill="#000" opacity="0.92" filter="url(#b5)"/>
<rect x="549.45" y="320.90" width="23.50" height="5.40" rx="2.70" fill="#000" opacity="0.8" filter="url(#b5)"/>
<rect x="579.25" y="320.90" width="23.50" height="5.40" rx="2.70" fill="#000" opacity="0.8" filter="url(#b5)"/>
<rect x="609.95" y="321.70" width="22.50" height="3.80" rx="1.90" fill="#000" opacity="0.52" filter="url(#b5)"/>
<rect x="640.30" y="321.60" width="23.00" height="4.00" rx="2.00" fill="#000" opacity="0.58" filter="url(#b5)"/>
<rect x="519.20" y="321.90" width="22.00" height="3.00" rx="1.50" fill="#000" opacity="0.5" filter="url(#b2)"/>
<rect x="551.20" y="322.20" width="20.00" height="2.40" rx="1.20" fill="#000" opacity="0.3" filter="url(#b2)"/>
<rect x="581.00" y="322.20" width="20.00" height="2.40" rx="1.20" fill="#000" opacity="0.3" filter="url(#b2)"/>
</g>
<g clip-path="url(#cc2)">
<rect x="487.10" y="350.70" width="24.00" height="15.00" rx="2.00" fill="#000" opacity="0.15" filter="url(#b3)"/>
<rect x="517.60" y="350.70" width="24.00" height="15.00" rx="2.00" fill="#000" opacity="0.15" filter="url(#b3)"/>
<rect x="548.40" y="350.70" width="24.00" height="15.00" rx="2.00" fill="#000" opacity="0.15" filter="url(#b3)"/>
<rect x="578.40" y="350.70" width="24.00" height="15.00" rx="2.00" fill="#000" opacity="0.15" filter="url(#b3)"/>
<rect x="608.60" y="350.70" width="24.00" height="15.00" rx="2.00" fill="#000" opacity="0.15" filter="url(#b3)"/>
<rect x="639.20" y="350.70" width="24.00" height="15.00" rx="2.00" fill="#000" opacity="0.15" filter="url(#b3)"/>
<rect x="487.55" y="356.30" width="22.50" height="4.40" rx="2.20" fill="#000" opacity="0.82" filter="url(#b2)"/>
<rect x="503.05" y="356.00" width="6.00" height="4.40" rx="2.20" fill="#000" opacity="0.5" filter="url(#b2)"/>
<rect x="489.05" y="356.60" width="5.00" height="4.00" rx="2.00" fill="#000" opacity="0.25" filter="url(#b2)"/>
<rect x="518.25" y="356.50" width="22.50" height="4.00" rx="2.00" fill="#000" opacity="0.8" filter="url(#b2)"/>
<rect x="533.75" y="356.00" width="6.00" height="4.40" rx="2.20" fill="#000" opacity="0.5" filter="url(#b2)"/>
<rect x="519.75" y="356.60" width="5.00" height="4.00" rx="2.00" fill="#000" opacity="0.25" filter="url(#b2)"/>
<rect x="548.05" y="356.40" width="23.50" height="4.20" rx="2.10" fill="#000" opacity="0.8" filter="url(#b2)"/>
<rect x="564.55" y="356.00" width="6.00" height="4.40" rx="2.20" fill="#000" opacity="0.5" filter="url(#b2)"/>
<rect x="549.55" y="356.60" width="5.00" height="4.00" rx="2.00" fill="#000" opacity="0.25" filter="url(#b2)"/>
<rect x="578.75" y="356.50" width="22.50" height="4.00" rx="2.00" fill="#000" opacity="0.76" filter="url(#b2)"/>
<rect x="594.25" y="356.00" width="6.00" height="4.40" rx="2.20" fill="#000" opacity="0.5" filter="url(#b2)"/>
<rect x="580.25" y="356.60" width="5.00" height="4.00" rx="2.00" fill="#000" opacity="0.25" filter="url(#b2)"/>
<rect x="608.45" y="356.50" width="23.50" height="4.00" rx="2.00" fill="#000" opacity="0.78" filter="url(#b2)"/>
<rect x="624.95" y="356.00" width="6.00" height="4.40" rx="2.20" fill="#000" opacity="0.5" filter="url(#b2)"/>
<rect x="609.95" y="356.60" width="5.00" height="4.00" rx="2.00" fill="#000" opacity="0.25" filter="url(#b2)"/>
<rect x="640.05" y="356.50" width="23.50" height="4.00" rx="2.00" fill="#000" opacity="0.78" filter="url(#b2)"/>
<rect x="656.55" y="356.00" width="6.00" height="4.40" rx="2.20" fill="#000" opacity="0.5" filter="url(#b2)"/>
<rect x="641.55" y="356.60" width="5.00" height="4.00" rx="2.00" fill="#000" opacity="0.25" filter="url(#b2)"/>
<rect x="483.2" y="340" width="186.8" height="29" filter="url(#nz)" opacity="0.06"/>
</g>
<line x1="150.85" y1="543.80" x2="150.85" y2="545.10" stroke="#000" stroke-width="1.6"/>
<line x1="147.05" y1="543.90" x2="154.65" y2="543.90" stroke="#000" stroke-width="1.8"/>
<line x1="170.05" y1="496.90" x2="170.05" y2="499.70" stroke="#000" stroke-width="1.6"/>
<line x1="166.25" y1="497.00" x2="173.85" y2="497.00" stroke="#000" stroke-width="1.8"/>
<line x1="189.40" y1="498.10" x2="189.40" y2="499.00" stroke="#000" stroke-width="1.6"/>
<line x1="185.60" y1="498.20" x2="193.20" y2="498.20" stroke="#000" stroke-width="1.8"/>
<line x1="208.55" y1="504.80" x2="208.55" y2="508.40" stroke="#000" stroke-width="1.6"/>
<line x1="204.75" y1="504.90" x2="212.35" y2="504.90" stroke="#000" stroke-width="1.8"/>
<rect x="144.45" y="544.80" width="12.80" height="30.50" fill="#fff" stroke="#000" stroke-width="1.5"/>
<rect x="163.65" y="499.40" width="12.80" height="75.90" fill="#000" stroke="#000" stroke-width="1.5"/>
<rect x="183.05" y="498.70" width="12.70" height="76.60" fill="#5f5f5f" stroke="#000" stroke-width="1.5"/>
<rect x="202.15" y="508.10" width="12.80" height="67.20" fill="#808080" stroke="#000" stroke-width="1.5"/>
<rect x="221.15" y="573.50" width="13.40" height="1.80" fill="#000" stroke="#000" stroke-width="1.5"/>
<rect x="240.25" y="574.00" width="13.20" height="1.30" fill="#000" stroke="#000" stroke-width="1.5"/>
<line x1="141.00" y1="471.95" x2="141.00" y2="575.95" stroke="#000" stroke-width="1.3"/>
<line x1="140.35" y1="575.30" x2="256.80" y2="575.30" stroke="#000" stroke-width="1.3"/>
<line x1="138.10" y1="575.30" x2="141.00" y2="575.30" stroke="#000" stroke-width="1.3"/>
<text transform="translate(136.50 577.88) scale(1.03 1)" font-size="7.6" text-anchor="end" stroke="#000" stroke-width="0.35">0.0</text>
<line x1="138.10" y1="541.07" x2="141.00" y2="541.07" stroke="#000" stroke-width="1.3"/>
<text transform="translate(136.50 543.65) scale(1.03 1)" font-size="7.6" text-anchor="end" stroke="#000" stroke-width="0.35">0.5</text>
<line x1="138.10" y1="506.83" x2="141.00" y2="506.83" stroke="#000" stroke-width="1.3"/>
<text transform="translate(136.50 509.42) scale(1.03 1)" font-size="7.6" text-anchor="end" stroke="#000" stroke-width="0.35">1.0</text>
<line x1="138.10" y1="472.60" x2="141.00" y2="472.60" stroke="#000" stroke-width="1.3"/>
<text transform="translate(136.50 475.18) scale(1.03 1)" font-size="7.6" text-anchor="end" stroke="#000" stroke-width="0.35">1.5</text>
<text transform="translate(106.90 524.00) rotate(-90)" font-size="9.2" text-anchor="middle" textLength="67.40" lengthAdjust="spacingAndGlyphs" stroke="#000" stroke-width="0.33">Relative intensity</text>
<text transform="translate(117.90 523.70) rotate(-90)" font-size="9.2" text-anchor="middle" textLength="73.40" lengthAdjust="spacingAndGlyphs" stroke="#000" stroke-width="0.33">Procol1A1/GAPDH</text>
<text transform="translate(169.70 491.00) scale(0.72 1)" font-size="9.0" text-anchor="middle" font-style="italic" stroke="#000" stroke-width="0.25">#</text>
<text transform="translate(227.70 571.82)" font-size="12.8" text-anchor="middle" font-weight="normal" stroke="#000" stroke-width="0.25">***</text>
<text transform="translate(246.80 572.82)" font-size="12.8" text-anchor="middle" font-weight="normal" stroke="#000" stroke-width="0.25">***</text>
<line x1="332.30" y1="566.40" x2="332.30" y2="568.20" stroke="#000" stroke-width="1.6"/>
<line x1="328.50" y1="566.50" x2="336.10" y2="566.50" stroke="#000" stroke-width="1.8"/>
<line x1="351.65" y1="486.30" x2="351.65" y2="492.00" stroke="#000" stroke-width="1.6"/>
<line x1="347.85" y1="486.40" x2="355.45" y2="486.40" stroke="#000" stroke-width="1.8"/>
<line x1="390.10" y1="522.50" x2="390.10" y2="529.90" stroke="#000" stroke-width="1.6"/>
<line x1="386.30" y1="522.60" x2="393.90" y2="522.60" stroke="#000" stroke-width="1.8"/>
<line x1="409.30" y1="563.50" x2="409.30" y2="565.60" stroke="#000" stroke-width="1.6"/>
<line x1="405.50" y1="563.60" x2="413.10" y2="563.60" stroke="#000" stroke-width="1.8"/>
<line x1="428.65" y1="569.30" x2="428.65" y2="570.90" stroke="#000" stroke-width="1.6"/>
<line x1="424.85" y1="569.40" x2="432.45" y2="569.40" stroke="#000" stroke-width="1.8"/>
<rect x="325.95" y="567.90" width="12.70" height="7.40" fill="#fff" stroke="#000" stroke-width="1.5"/>
<rect x="345.35" y="491.70" width="12.60" height="83.60" fill="#000" stroke="#000" stroke-width="1.5"/>
<rect x="364.55" y="519.10" width="12.70" height="56.20" fill="#5f5f5f" stroke="#000" stroke-width="1.5"/>
<rect x="383.75" y="529.60" width="12.70" height="45.70" fill="#808080" stroke="#000" stroke-width="1.5"/>
<rect x="402.95" y="565.30" width="12.70" height="10.00" fill="#a2a2a2" stroke="#000" stroke-width="1.5"/>
<rect x="422.25" y="570.60" width="12.80" height="4.70" fill="#d4d4d4" stroke="#000" stroke-width="1.5"/>
<line x1="322.80" y1="471.95" x2="322.80" y2="575.95" stroke="#000" stroke-width="1.3"/>
<line x1="322.15" y1="575.30" x2="437.80" y2="575.30" stroke="#000" stroke-width="1.3"/>
<line x1="319.90" y1="575.30" x2="322.80" y2="575.30" stroke="#000" stroke-width="1.3"/>
<text transform="translate(318.30 577.88) scale(1.03 1)" font-size="7.6" text-anchor="end" stroke="#000" stroke-width="0.35">0.0</text>
<line x1="319.90" y1="541.07" x2="322.80" y2="541.07" stroke="#000" stroke-width="1.3"/>
<text transform="translate(318.30 543.65) scale(1.03 1)" font-size="7.6" text-anchor="end" stroke="#000" stroke-width="0.35">0.5</text>
<line x1="319.90" y1="506.83" x2="322.80" y2="506.83" stroke="#000" stroke-width="1.3"/>
<text transform="translate(318.30 509.42) scale(1.03 1)" font-size="7.6" text-anchor="end" stroke="#000" stroke-width="0.35">1.0</text>
<line x1="319.90" y1="472.60" x2="322.80" y2="472.60" stroke="#000" stroke-width="1.3"/>
<text transform="translate(318.30 475.18) scale(1.03 1)" font-size="7.6" text-anchor="end" stroke="#000" stroke-width="0.35">1.5</text>
<text transform="translate(288.70 524.00) rotate(-90)" font-size="9.2" text-anchor="middle" textLength="67.40" lengthAdjust="spacingAndGlyphs" stroke="#000" stroke-width="0.33">Relative intensity</text>
<text transform="translate(299.30 523.70) rotate(-90)" font-size="9.2" text-anchor="middle" textLength="43.40" lengthAdjust="spacingAndGlyphs" stroke="#000" stroke-width="0.33">FN/GAPDH</text>
<text transform="translate(350.80 482.00)" font-size="9.2" text-anchor="middle" stroke="#000" stroke-width="0.25">#</text>
<text transform="translate(369.80 516.42)" font-size="12.8" text-anchor="middle" font-weight="normal" stroke="#000" stroke-width="0.25">**</text>
<text transform="translate(390.00 522.02)" font-size="12.8" text-anchor="middle" font-weight="normal" stroke="#000" stroke-width="0.25">***</text>
<text transform="translate(409.20 562.72)" font-size="12.8" text-anchor="middle" font-weight="normal" stroke="#000" stroke-width="0.25">***</text>
<text transform="translate(428.70 568.02)" font-size="12.8" text-anchor="middle" font-weight="normal" stroke="#000" stroke-width="0.25">***</text>
<line x1="514.25" y1="548.00" x2="514.25" y2="551.70" stroke="#000" stroke-width="1.6"/>
<line x1="510.45" y1="548.10" x2="518.05" y2="548.10" stroke="#000" stroke-width="1.8"/>
<line x1="533.70" y1="488.10" x2="533.70" y2="491.80" stroke="#000" stroke-width="1.6"/>
<line x1="529.90" y1="488.20" x2="537.50" y2="488.20" stroke="#000" stroke-width="1.8"/>
<line x1="553.05" y1="514.10" x2="553.05" y2="517.00" stroke="#000" stroke-width="1.6"/>
<line x1="549.25" y1="514.20" x2="556.85" y2="514.20" stroke="#000" stroke-width="1.8"/>
<line x1="572.20" y1="519.90" x2="572.20" y2="523.00" stroke="#000" stroke-width="1.6"/>
<line x1="568.40" y1="520.00" x2="576.00" y2="520.00" stroke="#000" stroke-width="1.8"/>
<line x1="591.50" y1="545.70" x2="591.50" y2="548.50" stroke="#000" stroke-width="1.6"/>
<line x1="587.70" y1="545.80" x2="595.30" y2="545.80" stroke="#000" stroke-width="1.8"/>
<line x1="610.80" y1="551.80" x2="610.80" y2="552.70" stroke="#000" stroke-width="1.6"/>
<line x1="607.00" y1="551.90" x2="614.60" y2="551.90" stroke="#000" stroke-width="1.8"/>
<rect x="507.85" y="551.40" width="12.80" height="23.90" fill="#fff" stroke="#000" stroke-width="1.5"/>
<rect x="527.15" y="491.50" width="13.10" height="83.80" fill="#000" stroke="#000" stroke-width="1.5"/>
<rect x="546.65" y="516.70" width="12.80" height="58.60" fill="#5f5f5f" stroke="#000" stroke-width="1.5"/>
<rect x="565.65" y="522.70" width="13.10" height="52.60" fill="#808080" stroke="#000" stroke-width="1.5"/>
<rect x="585.05" y="548.20" width="12.90" height="27.10" fill="#a2a2a2" stroke="#000" stroke-width="1.5"/>
<rect x="604.35" y="552.40" width="12.90" height="22.90" fill="#d4d4d4" stroke="#000" stroke-width="1.5"/>
<line x1="504.70" y1="471.95" x2="504.70" y2="575.95" stroke="#000" stroke-width="1.3"/>
<line x1="504.05" y1="575.30" x2="620.40" y2="575.30" stroke="#000" stroke-width="1.3"/>
<line x1="501.80" y1="575.30" x2="504.70" y2="575.30" stroke="#000" stroke-width="1.3"/>
<text transform="translate(500.20 577.88) scale(1.03 1)" font-size="7.6" text-anchor="end" stroke="#000" stroke-width="0.35">0.0</text>
<line x1="501.80" y1="549.62" x2="504.70" y2="549.62" stroke="#000" stroke-width="1.3"/>
<text transform="translate(500.20 552.21) scale(1.03 1)" font-size="7.6" text-anchor="end" stroke="#000" stroke-width="0.35">0.5</text>
<line x1="501.80" y1="523.95" x2="504.70" y2="523.95" stroke="#000" stroke-width="1.3"/>
<text transform="translate(500.20 526.53) scale(1.03 1)" font-size="7.6" text-anchor="end" stroke="#000" stroke-width="0.35">1.0</text>
<line x1="501.80" y1="498.27" x2="504.70" y2="498.27" stroke="#000" stroke-width="1.3"/>
<text transform="translate(500.20 500.86) scale(1.03 1)" font-size="7.6" text-anchor="end" stroke="#000" stroke-width="0.35">1.5</text>
<line x1="501.80" y1="472.60" x2="504.70" y2="472.60" stroke="#000" stroke-width="1.3"/>
<text transform="translate(500.20 475.18) scale(1.03 1)" font-size="7.6" text-anchor="end" stroke="#000" stroke-width="0.35">2.0</text>
<text transform="translate(470.10 524.00) rotate(-90)" font-size="9.2" text-anchor="middle" textLength="67.40" lengthAdjust="spacingAndGlyphs" stroke="#000" stroke-width="0.33">Relative intensity</text>
<text transform="translate(483.30 524.00) rotate(-90)" font-size="9.2" text-anchor="middle" textLength="59.60" lengthAdjust="spacingAndGlyphs" stroke="#000" stroke-width="0.33">α-SMA/GAPDH</text>
<text transform="translate(533.00 482.00)" font-size="9.2" text-anchor="middle" stroke="#000" stroke-width="0.25">#</text>
<text transform="translate(553.00 513.32)" font-size="12.8" text-anchor="middle" font-weight="normal" stroke="#000" stroke-width="0.25">***</text>
<text transform="translate(572.20 519.92)" font-size="12.8" text-anchor="middle" font-weight="normal" stroke="#000" stroke-width="0.25">***</text>
<text transform="translate(591.50 544.82)" font-size="12.8" text-anchor="middle" font-weight="normal" stroke="#000" stroke-width="0.25">***</text>
<text transform="translate(610.80 550.92)" font-size="12.8" text-anchor="middle" font-weight="normal" stroke="#000" stroke-width="0.25">***</text>
<text transform="translate(142.80 596.20)" font-size="10.4" text-anchor="end" textLength="102.40" lengthAdjust="spacingAndGlyphs" stroke="#000" stroke-width="0.3">CCG-100602(μmol/L)</text>
<text transform="translate(142.80 615.30)" font-size="10.4" text-anchor="end" textLength="80.60" lengthAdjust="spacingAndGlyphs" stroke="#000" stroke-width="0.3">TGF-β1(5ng/mL)</text>
<text transform="translate(150.50 594.43)" font-size="10.4" text-anchor="middle" stroke="#000" stroke-width="0.3">-</text>
<text transform="translate(169.60 594.43)" font-size="10.4" text-anchor="middle" stroke="#000" stroke-width="0.3">-</text>
<text transform="translate(188.50 597.10)" font-size="10.4" text-anchor="middle" stroke="#000" stroke-width="0.3">5</text>
<text transform="translate(208.20 597.30)" font-size="10.4" text-anchor="middle" stroke="#000" stroke-width="0.3">10</text>
<text transform="translate(227.60 596.70)" font-size="10.4" text-anchor="middle" stroke="#000" stroke-width="0.3">20</text>
<text transform="translate(246.90 597.00)" font-size="10.4" text-anchor="middle" stroke="#000" stroke-width="0.3">40</text>
<text transform="translate(150.50 613.93)" font-size="10.4" text-anchor="middle" stroke="#000" stroke-width="0.3">-</text>
<text transform="translate(169.60 616.04)" font-size="10.2" text-anchor="middle" stroke="#000" stroke-width="0.3">+</text>
<text transform="translate(188.50 616.04)" font-size="10.2" text-anchor="middle" stroke="#000" stroke-width="0.3">+</text>
<text transform="translate(208.20 616.04)" font-size="10.2" text-anchor="middle" stroke="#000" stroke-width="0.3">+</text>
<text transform="translate(227.60 616.04)" font-size="10.2" text-anchor="middle" stroke="#000" stroke-width="0.3">+</text>
<text transform="translate(246.90 616.04)" font-size="10.2" text-anchor="middle" stroke="#000" stroke-width="0.3">+</text>
<text transform="translate(332.10 594.43)" font-size="10.4" text-anchor="middle" stroke="#000" stroke-width="0.3">-</text>
<text transform="translate(350.80 594.43)" font-size="10.4" text-anchor="middle" stroke="#000" stroke-width="0.3">-</text>
<text transform="translate(370.20 597.10)" font-size="10.4" text-anchor="middle" stroke="#000" stroke-width="0.3">5</text>
<text transform="translate(389.40 597.30)" font-size="10.4" text-anchor="middle" stroke="#000" stroke-width="0.3">10</text>
<text transform="translate(408.70 596.70)" font-size="10.4" text-anchor="middle" stroke="#000" stroke-width="0.3">20</text>
<text transform="translate(428.20 597.00)" font-size="10.4" text-anchor="middle" stroke="#000" stroke-width="0.3">40</text>
<text transform="translate(332.10 613.93)" font-size="10.4" text-anchor="middle" stroke="#000" stroke-width="0.3">-</text>
<text transform="translate(350.80 616.04)" font-size="10.2" text-anchor="middle" stroke="#000" stroke-width="0.3">+</text>
<text transform="translate(370.20 616.04)" font-size="10.2" text-anchor="middle" stroke="#000" stroke-width="0.3">+</text>
<text transform="translate(389.40 616.04)" font-size="10.2" text-anchor="middle" stroke="#000" stroke-width="0.3">+</text>
<text transform="translate(408.70 616.04)" font-size="10.2" text-anchor="middle" stroke="#000" stroke-width="0.3">+</text>
<text transform="translate(428.20 616.04)" font-size="10.2" text-anchor="middle" stroke="#000" stroke-width="0.3">+</text>
<text transform="translate(513.40 594.43)" font-size="10.4" text-anchor="middle" stroke="#000" stroke-width="0.3">-</text>
<text transform="translate(533.00 594.43)" font-size="10.4" text-anchor="middle" stroke="#000" stroke-width="0.3">-</text>
<text transform="translate(551.90 597.10)" font-size="10.4" text-anchor="middle" stroke="#000" stroke-width="0.3">5</text>
<text transform="translate(571.20 597.30)" font-size="10.4" text-anchor="middle" stroke="#000" stroke-width="0.3">10</text>
<text transform="translate(590.30 596.70)" font-size="10.4" text-anchor="middle" stroke="#000" stroke-width="0.3">20</text>
<text transform="translate(609.80 597.00)" font-size="10.4" text-anchor="middle" stroke="#000" stroke-width="0.3">40</text>
<text transform="translate(513.40 613.93)" font-size="10.4" text-anchor="middle" stroke="#000" stroke-width="0.3">-</text>
<text transform="translate(533.00 616.04)" font-size="10.2" text-anchor="middle" stroke="#000" stroke-width="0.3">+</text>
<text transform="translate(551.90 616.04)" font-size="10.2" text-anchor="middle" stroke="#000" stroke-width="0.3">+</text>
<text transform="translate(571.20 616.04)" font-size="10.2" text-anchor="middle" stroke="#000" stroke-width="0.3">+</text>
<text transform="translate(590.30 616.04)" font-size="10.2" text-anchor="middle" stroke="#000" stroke-width="0.3">+</text>
<text transform="translate(609.80 616.04)" font-size="10.2" text-anchor="middle" stroke="#000" stroke-width="0.3">+</text>
<line x1="150.70" y1="754.10" x2="150.70" y2="755.90" stroke="#000" stroke-width="1.6"/>
<line x1="146.90" y1="754.20" x2="154.50" y2="754.20" stroke="#000" stroke-width="1.8"/>
<line x1="169.90" y1="699.70" x2="169.90" y2="712.00" stroke="#000" stroke-width="1.6"/>
<line x1="166.10" y1="699.80" x2="173.70" y2="699.80" stroke="#000" stroke-width="1.8"/>
<line x1="189.25" y1="709.40" x2="189.25" y2="716.70" stroke="#000" stroke-width="1.6"/>
<line x1="185.45" y1="709.50" x2="193.05" y2="709.50" stroke="#000" stroke-width="1.8"/>
<line x1="208.65" y1="727.80" x2="208.65" y2="732.20" stroke="#000" stroke-width="1.6"/>
<line x1="204.85" y1="727.90" x2="212.45" y2="727.90" stroke="#000" stroke-width="1.8"/>
<line x1="227.95" y1="743.60" x2="227.95" y2="749.80" stroke="#000" stroke-width="1.6"/>
<line x1="224.15" y1="743.70" x2="231.75" y2="743.70" stroke="#000" stroke-width="1.8"/>
<line x1="247.35" y1="760.60" x2="247.35" y2="763.80" stroke="#000" stroke-width="1.6"/>
<line x1="243.55" y1="760.70" x2="251.15" y2="760.70" stroke="#000" stroke-width="1.8"/>
<rect x="144.35" y="755.60" width="12.70" height="34.70" fill="#fff" stroke="#000" stroke-width="1.5"/>
<rect x="163.45" y="711.70" width="12.90" height="78.60" fill="#000" stroke="#000" stroke-width="1.5"/>
<rect x="182.85" y="716.40" width="12.80" height="73.90" fill="#5f5f5f" stroke="#000" stroke-width="1.5"/>
<rect x="202.25" y="731.90" width="12.80" height="58.40" fill="#808080" stroke="#000" stroke-width="1.5"/>
<rect x="221.55" y="749.50" width="12.80" height="40.80" fill="#a2a2a2" stroke="#000" stroke-width="1.5"/>
<rect x="240.95" y="763.50" width="12.80" height="26.80" fill="#d4d4d4" stroke="#000" stroke-width="1.5"/>
<line x1="140.80" y1="683.55" x2="140.80" y2="790.95" stroke="#000" stroke-width="1.3"/>
<line x1="140.15" y1="790.30" x2="257.50" y2="790.30" stroke="#000" stroke-width="1.3"/>
<line x1="137.90" y1="790.30" x2="140.80" y2="790.30" stroke="#000" stroke-width="1.3"/>
<text transform="translate(136.30 792.88) scale(1.03 1)" font-size="7.6" text-anchor="end" stroke="#000" stroke-width="0.35">0.0</text>
<line x1="137.90" y1="754.93" x2="140.80" y2="754.93" stroke="#000" stroke-width="1.3"/>
<text transform="translate(136.30 757.52) scale(1.03 1)" font-size="7.6" text-anchor="end" stroke="#000" stroke-width="0.35">0.5</text>
<line x1="137.90" y1="719.57" x2="140.80" y2="719.57" stroke="#000" stroke-width="1.3"/>
<text transform="translate(136.30 722.15) scale(1.03 1)" font-size="7.6" text-anchor="end" stroke="#000" stroke-width="0.35">1.0</text>
<line x1="137.90" y1="684.20" x2="140.80" y2="684.20" stroke="#000" stroke-width="1.3"/>
<text transform="translate(136.30 686.78) scale(1.03 1)" font-size="7.6" text-anchor="end" stroke="#000" stroke-width="0.35">1.5</text>
<text transform="translate(106.70 737.40) rotate(-90)" font-size="9.2" text-anchor="middle" textLength="68.60" lengthAdjust="spacingAndGlyphs" stroke="#000" stroke-width="0.33">Relative intensity</text>
<text transform="translate(117.70 737.00) rotate(-90)" font-size="9.2" text-anchor="middle" textLength="65.40" lengthAdjust="spacingAndGlyphs" stroke="#000" stroke-width="0.33">MRTF-A/HDAC1</text>
<text transform="translate(170.30 696.00)" font-size="9.2" text-anchor="middle" stroke="#000" stroke-width="0.25">#</text>
<text transform="translate(227.90 743.82)" font-size="12.8" text-anchor="middle" font-weight="normal" stroke="#000" stroke-width="0.25">*</text>
<text transform="translate(247.40 761.42)" font-size="12.8" text-anchor="middle" font-weight="normal" stroke="#000" stroke-width="0.25">***</text>
<line x1="330.15" y1="750.70" x2="330.15" y2="754.80" stroke="#000" stroke-width="1.6"/>
<line x1="326.35" y1="750.80" x2="333.95" y2="750.80" stroke="#000" stroke-width="1.8"/>
<line x1="349.25" y1="689.70" x2="349.25" y2="696.80" stroke="#000" stroke-width="1.6"/>
<line x1="345.45" y1="689.80" x2="353.05" y2="689.80" stroke="#000" stroke-width="1.8"/>
<line x1="368.65" y1="721.20" x2="368.65" y2="732.80" stroke="#000" stroke-width="1.6"/>
<line x1="364.85" y1="721.30" x2="372.45" y2="721.30" stroke="#000" stroke-width="1.8"/>
<line x1="387.95" y1="720.40" x2="387.95" y2="732.80" stroke="#000" stroke-width="1.6"/>
<line x1="384.15" y1="720.50" x2="391.75" y2="720.50" stroke="#000" stroke-width="1.8"/>
<line x1="407.30" y1="742.80" x2="407.30" y2="752.70" stroke="#000" stroke-width="1.6"/>
<line x1="403.50" y1="742.90" x2="411.10" y2="742.90" stroke="#000" stroke-width="1.8"/>
<line x1="426.65" y1="743.80" x2="426.65" y2="752.70" stroke="#000" stroke-width="1.6"/>
<line x1="422.85" y1="743.90" x2="430.45" y2="743.90" stroke="#000" stroke-width="1.8"/>
<rect x="323.75" y="754.50" width="12.80" height="35.80" fill="#fff" stroke="#000" stroke-width="1.5"/>
<rect x="342.75" y="696.50" width="13.00" height="93.80" fill="#000" stroke="#000" stroke-width="1.5"/>
<rect x="362.15" y="732.50" width="13.00" height="57.80" fill="#5f5f5f" stroke="#000" stroke-width="1.5"/>
<rect x="381.55" y="732.50" width="12.80" height="57.80" fill="#808080" stroke="#000" stroke-width="1.5"/>
<rect x="400.85" y="752.40" width="12.90" height="37.90" fill="#a2a2a2" stroke="#000" stroke-width="1.5"/>
<rect x="420.25" y="752.40" width="12.80" height="37.90" fill="#d4d4d4" stroke="#000" stroke-width="1.5"/>
<line x1="320.50" y1="683.55" x2="320.50" y2="790.95" stroke="#000" stroke-width="1.3"/>
<line x1="319.85" y1="790.30" x2="437.00" y2="790.30" stroke="#000" stroke-width="1.3"/>
<line x1="317.60" y1="790.30" x2="320.50" y2="790.30" stroke="#000" stroke-width="1.3"/>
<text transform="translate(316.00 792.88) scale(1.03 1)" font-size="7.6" text-anchor="end" stroke="#000" stroke-width="0.35">0.0</text>
<line x1="317.60" y1="763.77" x2="320.50" y2="763.77" stroke="#000" stroke-width="1.3"/>
<text transform="translate(316.00 766.36) scale(1.03 1)" font-size="7.6" text-anchor="end" stroke="#000" stroke-width="0.35">0.5</text>
<line x1="317.60" y1="737.25" x2="320.50" y2="737.25" stroke="#000" stroke-width="1.3"/>
<text transform="translate(316.00 739.83) scale(1.03 1)" font-size="7.6" text-anchor="end" stroke="#000" stroke-width="0.35">1.0</text>
<line x1="317.60" y1="710.73" x2="320.50" y2="710.73" stroke="#000" stroke-width="1.3"/>
<text transform="translate(316.00 713.31) scale(1.03 1)" font-size="7.6" text-anchor="end" stroke="#000" stroke-width="0.35">1.5</text>
<line x1="317.60" y1="684.20" x2="320.50" y2="684.20" stroke="#000" stroke-width="1.3"/>
<text transform="translate(316.00 686.78) scale(1.03 1)" font-size="7.6" text-anchor="end" stroke="#000" stroke-width="0.35">2.0</text>
<text transform="translate(286.10 737.40) rotate(-90)" font-size="9.2" text-anchor="middle" textLength="68.60" lengthAdjust="spacingAndGlyphs" stroke="#000" stroke-width="0.33">Relative intensity</text>
<text transform="translate(297.30 739.40) rotate(-90)" font-size="9.2" text-anchor="middle" textLength="45.00" lengthAdjust="spacingAndGlyphs" stroke="#000" stroke-width="0.33">SRF/HDAC1</text>
<text transform="translate(348.30 685.20)" font-size="9.2" text-anchor="middle" stroke="#000" stroke-width="0.25">#</text>
<text transform="translate(407.30 741.22)" font-size="12.8" text-anchor="middle" font-weight="normal" stroke="#000" stroke-width="0.25">*</text>
<text transform="translate(426.60 742.22)" font-size="12.8" text-anchor="middle" font-weight="normal" stroke="#000" stroke-width="0.25">*</text>
<text transform="translate(142.80 808.90)" font-size="10.4" text-anchor="end" textLength="102.40" lengthAdjust="spacingAndGlyphs" stroke="#000" stroke-width="0.3">CCG-100602(μmol/L)</text>
<text transform="translate(142.80 828.60)" font-size="10.4" text-anchor="end" textLength="80.60" lengthAdjust="spacingAndGlyphs" stroke="#000" stroke-width="0.3">TGF-β1(5ng/mL)</text>
<text transform="translate(150.50 807.63)" font-size="10.4" text-anchor="middle" stroke="#000" stroke-width="0.3">-</text>
<text transform="translate(169.90 807.63)" font-size="10.4" text-anchor="middle" stroke="#000" stroke-width="0.3">-</text>
<text transform="translate(188.60 810.30)" font-size="10.4" text-anchor="middle" stroke="#000" stroke-width="0.3">5</text>
<text transform="translate(208.00 810.60)" font-size="10.4" text-anchor="middle" stroke="#000" stroke-width="0.3">10</text>
<text transform="translate(227.50 809.90)" font-size="10.4" text-anchor="middle" stroke="#000" stroke-width="0.3">20</text>
<text transform="translate(247.00 810.20)" font-size="10.4" text-anchor="middle" stroke="#000" stroke-width="0.3">40</text>
<text transform="translate(150.50 827.13)" font-size="10.4" text-anchor="middle" stroke="#000" stroke-width="0.3">-</text>
<text transform="translate(169.90 829.24)" font-size="10.2" text-anchor="middle" stroke="#000" stroke-width="0.3">+</text>
<text transform="translate(188.60 829.24)" font-size="10.2" text-anchor="middle" stroke="#000" stroke-width="0.3">+</text>
<text transform="translate(208.00 829.24)" font-size="10.2" text-anchor="middle" stroke="#000" stroke-width="0.3">+</text>
<text transform="translate(227.50 829.24)" font-size="10.2" text-anchor="middle" stroke="#000" stroke-width="0.3">+</text>
<text transform="translate(247.00 829.24)" font-size="10.2" text-anchor="middle" stroke="#000" stroke-width="0.3">+</text>
<text transform="translate(329.90 807.63)" font-size="10.4" text-anchor="middle" stroke="#000" stroke-width="0.3">-</text>
<text transform="translate(348.20 807.63)" font-size="10.4" text-anchor="middle" stroke="#000" stroke-width="0.3">-</text>
<text transform="translate(367.60 810.30)" font-size="10.4" text-anchor="middle" stroke="#000" stroke-width="0.3">5</text>
<text transform="translate(387.00 810.60)" font-size="10.4" text-anchor="middle" stroke="#000" stroke-width="0.3">10</text>
<text transform="translate(406.70 809.90)" font-size="10.4" text-anchor="middle" stroke="#000" stroke-width="0.3">20</text>
<text transform="translate(426.40 810.20)" font-size="10.4" text-anchor="middle" stroke="#000" stroke-width="0.3">40</text>
<text transform="translate(329.90 827.13)" font-size="10.4" text-anchor="middle" stroke="#000" stroke-width="0.3">-</text>
<text transform="translate(348.20 829.24)" font-size="10.2" text-anchor="middle" stroke="#000" stroke-width="0.3">+</text>
<text transform="translate(367.60 829.24)" font-size="10.2" text-anchor="middle" stroke="#000" stroke-width="0.3">+</text>
<text transform="translate(387.00 829.24)" font-size="10.2" text-anchor="middle" stroke="#000" stroke-width="0.3">+</text>
<text transform="translate(406.70 829.24)" font-size="10.2" text-anchor="middle" stroke="#000" stroke-width="0.3">+</text>
<text transform="translate(426.40 829.24)" font-size="10.2" text-anchor="middle" stroke="#000" stroke-width="0.3">+</text>
</svg></body></html>
